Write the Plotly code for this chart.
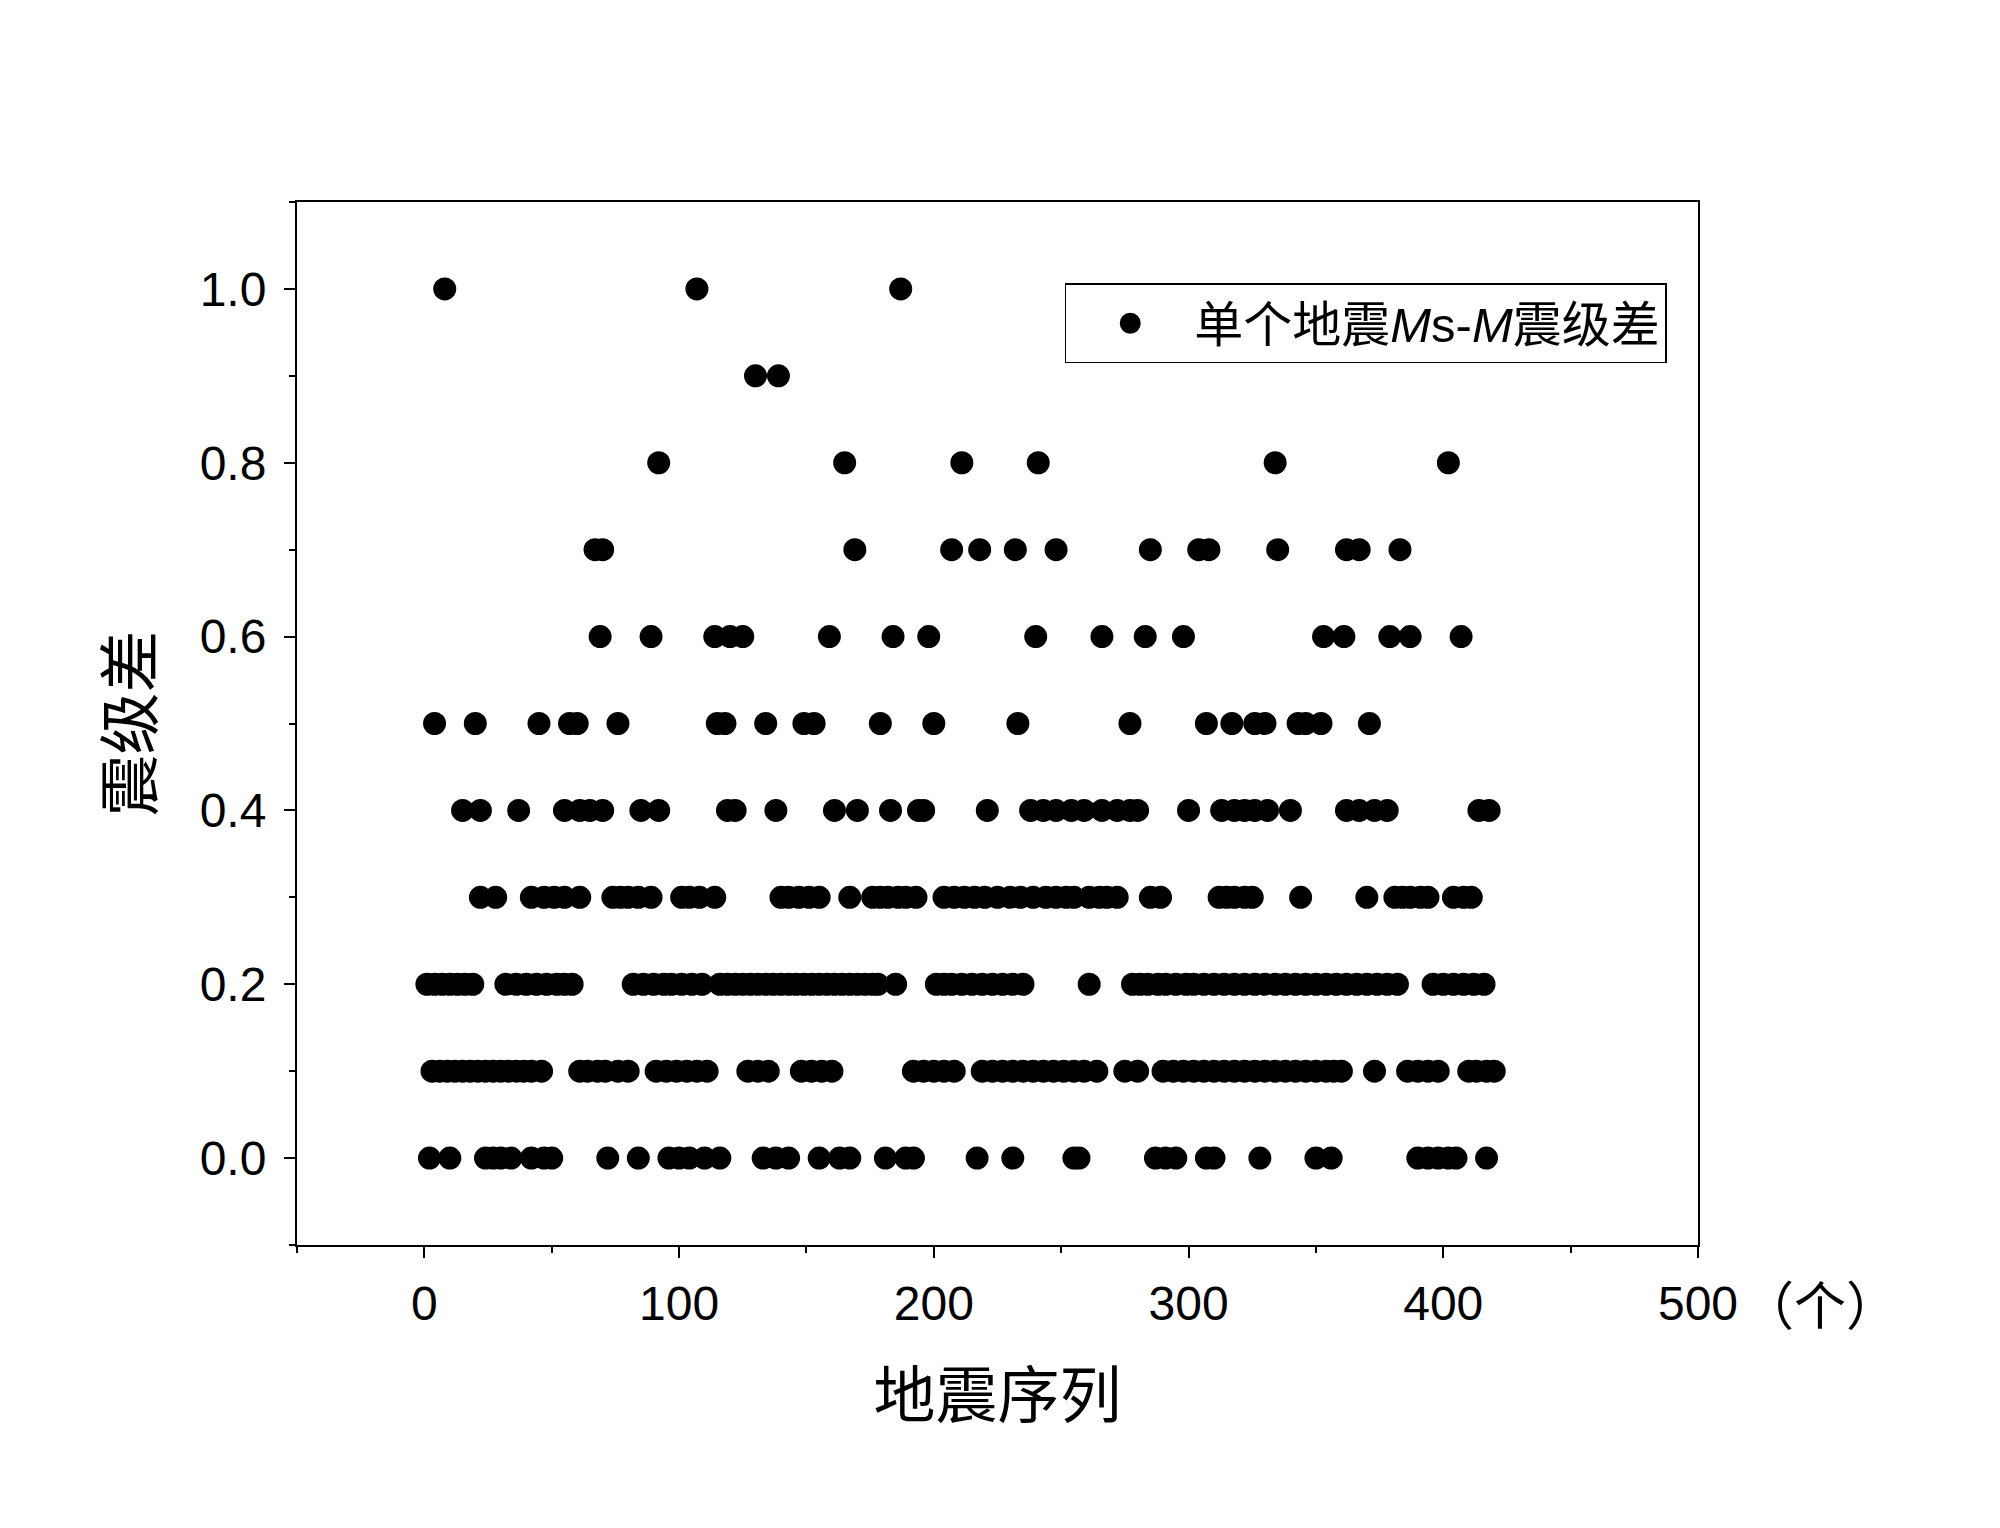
import plotly.graph_objects as go

# earthquake sequence indices grouped by their Ms-M magnitude difference
levels = [0.0, 0.1, 0.2, 0.3, 0.4, 0.5, 0.6, 0.7, 0.8, 0.9, 1.0]

seq_d00 = [2, 10, 24, 27, 30, 34, 42, 47, 50, 72, 84, 96, 100, 104, 110, 116, 133, 138, 143,
           155, 163, 167, 181, 189, 192, 217, 231, 255, 257, 287, 291, 295, 307, 310, 328, 350,
           356, 390, 394, 398, 402, 405, 417]
seq_d01 = [3, 6, 9, 12, 15, 18, 21, 24, 27, 30, 33, 36, 39, 42, 46, 61, 64, 68, 71, 76, 80, 91,
           95, 99, 103, 107, 111, 127, 131, 135, 148, 152, 156, 160, 192, 196, 200, 204, 208, 219,
           223, 227, 231, 235, 239, 243, 247, 251, 255, 259, 264, 275, 280, 290, 294, 298, 302,
           306, 310, 314, 318, 322, 326, 330, 334, 338, 342, 346, 350, 354, 357, 360, 373, 386,
           390, 394, 398, 410, 413, 417, 420]
seq_d02 = [1, 4, 7, 10, 13, 16, 19, 32, 36, 40, 44, 48, 52, 55, 58, 82, 86, 90, 94, 97, 101, 105,
           109, 116, 119, 122, 125, 128, 131, 134, 137, 140, 143, 146, 149, 152, 155, 158, 161,
           164, 167, 170, 173, 176, 178, 185, 201, 204, 207, 211, 215, 219, 223, 227, 231, 235,
           261, 278, 281, 284, 288, 291, 295, 299, 302, 306, 310, 314, 318, 322, 326, 330, 334,
           338, 342, 346, 350, 354, 358, 362, 366, 370, 374, 378, 382, 396, 400, 404, 408, 412, 416]
seq_d03 = [22, 28, 42, 47, 51, 55, 61, 74, 77, 80, 84, 89, 101, 104, 108, 114, 140, 143, 147,
           151, 155, 167, 176, 179, 182, 186, 189, 193, 204, 208, 212, 216, 220, 225, 230, 234,
           239, 244, 248, 252, 255, 261, 265, 268, 272, 285, 289, 312, 315, 318, 322, 325, 344,
           370, 381, 384, 387, 391, 394, 404, 408, 411]
seq_d04 = [15, 22, 37, 55, 61, 65, 70, 85, 92, 119, 122, 138, 161, 170, 183, 194, 196, 221, 238,
           243, 248, 254, 259, 266, 272, 277, 280, 300, 313, 318, 322, 326, 331, 340, 362, 367,
           373, 378, 414, 418]
seq_d05 = [4, 20, 45, 57, 60, 76, 115, 118, 134, 149, 153, 179, 200, 233, 277, 307, 317, 326,
           330, 343, 346, 352, 371]
seq_d06 = [69, 89, 114, 120, 125, 159, 184, 198, 240, 266, 283, 298, 353, 361, 379, 387, 407]
seq_d07 = [67, 70, 169, 207, 218, 232, 248, 285, 304, 308, 335, 362, 367, 383]
seq_d08 = [92, 165, 211, 241, 334, 402]
seq_d09 = [130, 139]
seq_d10 = [8, 107, 187]

groups = [seq_d00, seq_d01, seq_d02, seq_d03, seq_d04, seq_d05,
          seq_d06, seq_d07, seq_d08, seq_d09, seq_d10]

xs, ys = [], []
for lvl, seq in zip(levels, groups):
    xs += seq
    ys += [lvl] * len(seq)

LATIN = "Liberation Sans, Arial, Noto Sans CJK SC, sans-serif"
CJK = "Noto Sans CJK SC, sans-serif"

fig = go.Figure()
# size + outline width so the legend symbol (capped by plotly) stays big too
fig.add_trace(go.Scatter(
    x=xs, y=ys, mode="markers",
    marker=dict(color="black", size=18, symbol="circle",
                line=dict(color="black", width=5)),
    name="单个地震<i>M</i>s-<i>M</i>震级差",
    showlegend=True,
))

axis_common = dict(
    showline=True, linecolor="black", linewidth=2, mirror=True,
    ticks="outside", ticklen=11, tickwidth=2, tickcolor="black",
    showgrid=False, zeroline=False,
    tickfont=dict(family=LATIN, size=48, color="black"),
)

fig.update_xaxes(
    range=[-50, 500], tickmode="array", tickvals=[0, 100, 200, 300, 400, 500],
    minor=dict(ticks="outside", ticklen=6, tickwidth=2, tickcolor="black", tick0=-50, dtick=50),
    title=dict(text="地震序列", font=dict(family=CJK, size=62, color="black"), standoff=46),
    ticklabelstandoff=4,
    **axis_common,
)
fig.update_yaxes(
    range=[-0.1, 1.1], tickmode="array", tickvals=[0.0, 0.2, 0.4, 0.6, 0.8, 1.0],
    tickformat=".1f",
    minor=dict(ticks="outside", ticklen=6, tickwidth=2, tickcolor="black", tick0=-0.1, dtick=0.1),
    title=dict(text="震级差", font=dict(family=CJK, size=62, color="black"), standoff=26),
    ticklabelstandoff=8,
    **axis_common,
)

fig.add_annotation(
    x=500, y=0, xref="x", yref="paper", yanchor="top", xanchor="left",
    xshift=42, yshift=-18, showarrow=False,
    text="（个）", font=dict(family=CJK, size=52, color="black"),
)

fig.update_layout(
    width=2000, height=1528,
    margin=dict(l=289, r=310, t=194, b=291),
    paper_bgcolor="white", plot_bgcolor="white",
    legend=dict(
        x=0.548, y=0.922, xanchor="left", yanchor="top",
        bordercolor="black", borderwidth=1.5, bgcolor="white",
        font=dict(family=LATIN, size=49, color="black"),
        itemwidth=118,
    ),
)

fig.write_html("out.html")
